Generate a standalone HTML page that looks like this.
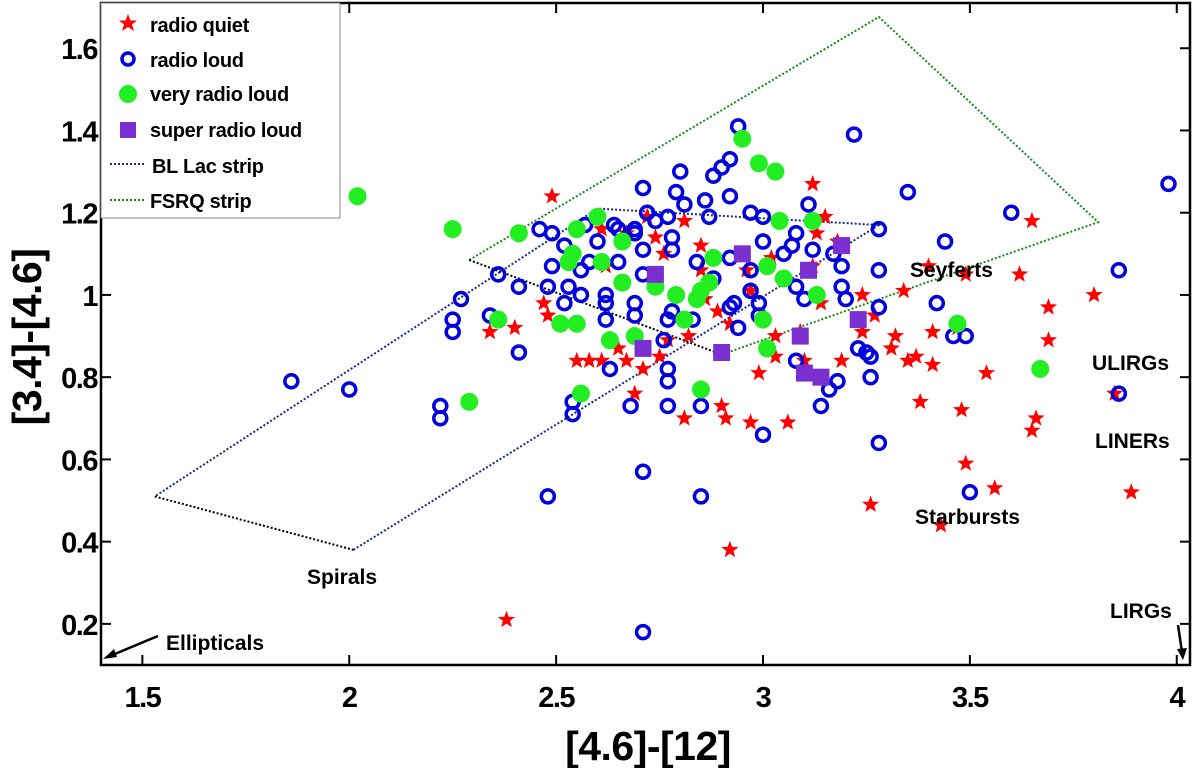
<!DOCTYPE html>
<html><head><meta charset="utf-8"><style>
body{margin:0;background:#fff;}
svg{display:block;font-family:"Liberation Sans",sans-serif;font-weight:bold;}
</style></head><body>
<svg id="chart" width="1200" height="768"></svg>
<script>
const xTicks=[1.5,2,2.5,3,3.5,4];
const yTicks=[0.2,0.4,0.6,0.8,1,1.2,1.4,1.6];
const quietX=[2.49,3.12,2.74,2.81,2.47,2.48,2.34,2.40,2.58,2.55,2.61,2.65,2.67,2.71,2.75,2.69,2.81,2.90,2.91,2.97,3.06,2.99,3.03,3.10,3.19,3.24,3.32,3.37,3.38,3.41,3.35,3.31,3.41,3.34,3.40,3.49,3.62,3.69,3.80,3.69,3.65,3.47,3.54,3.48,3.49,3.56,3.66,3.65,3.89,3.85,3.26,3.43,2.92,2.38,3.13,3.15,2.76,2.85,2.85,2.72,2.67,2.62,2.61,2.86,2.96,2.92,2.97,3.12,3.14,3.27,3.09,3.02,3.18,3.24,2.77,2.82,2.89,3.03];
const quietY=[1.24,1.27,1.14,1.18,0.98,0.95,0.91,0.92,0.84,0.84,0.84,0.87,0.84,0.82,0.85,0.76,0.70,0.73,0.70,0.69,0.69,0.81,0.85,0.84,0.84,0.91,0.90,0.85,0.74,0.83,0.84,0.87,0.91,1.01,1.07,1.05,1.05,0.97,1.00,0.89,1.18,0.92,0.81,0.72,0.59,0.53,0.70,0.67,0.52,0.76,0.49,0.44,0.38,0.21,1.15,1.19,1.10,1.12,1.06,1.19,1.15,1.07,1.16,0.99,1.06,0.93,1.01,1.07,0.98,0.95,0.91,1.09,1.13,1.00,0.89,0.90,0.96,0.90];
const loudX=[2.94,3.22,2.92,2.90,2.88,2.80,2.71,2.79,2.92,2.81,2.86,3.11,2.97,3.00,2.87,2.72,2.77,2.74,2.69,2.69,2.64,2.65,2.60,2.57,2.46,2.49,2.52,3.08,3.07,3.00,3.12,3.05,3.17,2.92,2.84,2.71,2.78,2.78,2.97,3.19,3.19,3.20,3.08,3.10,2.97,2.99,2.93,2.92,2.99,2.94,2.88,2.83,2.78,2.77,2.76,2.69,2.69,2.62,2.62,2.62,2.56,2.53,2.52,2.48,2.49,2.56,2.58,2.65,2.71,2.36,2.41,2.27,2.25,2.25,2.34,2.41,2.63,2.77,2.77,2.68,2.77,2.85,3.08,3.14,3.16,3.18,3.23,2.22,2.22,2.54,2.54,1.86,2.00,2.48,2.71,2.71,2.85,3.00,3.25,3.26,3.28,3.28,3.28,3.35,3.44,3.42,3.46,3.49,3.50,3.60,3.86,3.86,3.98,3.26,3.28];
const loudY=[1.41,1.39,1.33,1.31,1.29,1.30,1.26,1.25,1.24,1.22,1.23,1.22,1.20,1.19,1.19,1.20,1.19,1.18,1.16,1.15,1.17,1.16,1.13,1.17,1.16,1.15,1.12,1.15,1.12,1.13,1.11,1.10,1.10,1.09,1.08,1.11,1.14,1.11,1.06,1.07,1.02,0.99,1.02,0.99,1.01,0.98,0.98,0.97,0.95,0.92,1.04,0.94,0.96,0.94,0.89,0.95,0.98,1.00,0.98,0.94,1.00,1.02,0.98,1.02,1.07,1.06,1.08,1.08,1.05,1.05,1.02,0.99,0.94,0.91,0.95,0.86,0.82,0.82,0.79,0.73,0.73,0.73,0.84,0.73,0.77,0.79,0.87,0.73,0.70,0.74,0.71,0.79,0.77,0.51,0.57,0.18,0.51,0.66,0.86,0.85,0.97,1.06,1.16,1.25,1.13,0.98,0.90,0.90,0.52,1.20,0.76,1.06,1.27,0.80,0.64];
const veryX=[2.25,2.41,2.55,2.60,2.66,2.54,2.53,2.61,2.66,2.74,2.79,2.85,2.87,2.84,2.88,2.95,2.99,3.03,3.04,3.12,3.01,3.05,3.13,3.00,3.01,2.81,2.69,2.63,2.51,2.55,2.36,2.56,2.85,2.29,2.02,3.47,3.67];
const veryY=[1.16,1.15,1.16,1.19,1.13,1.10,1.08,1.08,1.03,1.02,1.00,1.01,1.03,0.99,1.09,1.38,1.32,1.30,1.18,1.18,1.07,1.04,1.00,0.94,0.87,0.94,0.90,0.89,0.93,0.93,0.94,0.76,0.77,0.74,1.24,0.93,0.82];
const superX=[2.74,2.71,2.90,2.95,3.11,3.19,3.09,3.10,3.14,3.23];
const superY=[1.05,0.87,0.86,1.10,1.06,1.12,0.90,0.81,0.80,0.94];
const blLacX=[1.53,2.60,3.28,2.01];
const blLacY=[0.51,1.21,1.17,0.38];
const fsrqX=[2.29,3.28,3.81,2.90];
const fsrqY=[1.085,1.676,1.177,0.855];

const L=101,R=1190,T=3,B=665,X0=1.4,X1=4.032,Y0=0.1,Y1=1.71;
const sx=v=>L+(v-X0)/(X1-X0)*(R-L);
const sy=v=>B-(v-Y0)/(Y1-Y0)*(B-T);
const NS='http://www.w3.org/2000/svg';
const svg=document.getElementById('chart');
function mk(tag,attrs,parent){const e=document.createElementNS(NS,tag);for(const k in attrs)e.setAttribute(k,attrs[k]);(parent||svg).appendChild(e);return e;}
function starPts(cx,cy,r){let p=[];for(let i=0;i<10;i++){const a=-Math.PI/2+i*Math.PI/5;const rr=i%2?r*0.42:r;p.push((cx+rr*Math.cos(a)).toFixed(1)+','+(cy+rr*Math.sin(a)).toFixed(1));}return p.join(' ');}

const bl=blLacX.map((x,i)=>sx(x)+','+sy(blLacY[i]));
const blPoly=mk('polyline',{points:[bl[3],bl[2],bl[1],bl[0]].join(' '),fill:'none',stroke:'#1a2a8a','stroke-width':2,'stroke-dasharray':'2,2'});


const blEdge=mk('line',{x1:sx(blLacX[0]),y1:sy(blLacY[0]),x2:sx(blLacX[3]),y2:sy(blLacY[3]),stroke:'#000','stroke-width':2,'stroke-dasharray':'2,2'});


const fs=fsrqX.map((x,i)=>sx(x)+','+sy(fsrqY[i]));
const fsPoly=mk('polyline',{points:[fs[0],fs[1],fs[2],fs[3]].join(' '),fill:'none',stroke:'#1a8a1a','stroke-width':2,'stroke-dasharray':'2,2'});


const fsEdge=mk('line',{x1:sx(fsrqX[0]),y1:sy(fsrqY[0]),x2:sx(fsrqX[3]),y2:sy(fsrqY[3]),stroke:'#000','stroke-width':2,'stroke-dasharray':'2,2'});



quietX.forEach((x,i)=>{const e=mk('polygon',{points:starPts(sx(x),sy(quietY[i]),9),fill:'#f00'});

});
loudX.forEach((x,i)=>{const e=mk('circle',{cx:sx(x),cy:sy(loudY[i]),r:6.5,fill:'none',stroke:'#0000dd','stroke-width':3.5});

});
veryX.forEach((x,i)=>{const e=mk('circle',{cx:sx(x),cy:sy(veryY[i]),r:9,fill:'#22ee22'});

});
superX.forEach((x,i)=>{const e=mk('rect',{x:sx(x)-8.5,y:sy(superY[i])-8.5,width:17,height:17,fill:'#7a2fd0'});

});

const fr=mk('rect',{x:L,y:T,width:R-L,height:B-T,fill:'none',stroke:'#000','stroke-width':2.5});


xTicks.forEach(v=>{const X=sx(v);mk('line',{x1:X,y1:B,x2:X,y2:B-10,stroke:'#000','stroke-width':2});mk('line',{x1:X,y1:T,x2:X,y2:T+10,stroke:'#000','stroke-width':2});
const t=mk('text',{x:X,y:707,'text-anchor':'middle','font-size':29,'letter-spacing':-1.5});t.textContent=v;

});
yTicks.forEach(v=>{const Y=sy(v);mk('line',{x1:L,y1:Y,x2:L+10,y2:Y,stroke:'#000','stroke-width':2});mk('line',{x1:R,y1:Y,x2:R-10,y2:Y,stroke:'#000','stroke-width':2});
const t=mk('text',{x:L-4,y:Y+11,'text-anchor':'end','font-size':29,'letter-spacing':-1.5});t.textContent=v;

});
</script>
<svg width="1200" height="768" style="position:absolute;left:0;top:0">
<g font-family="Liberation Sans, sans-serif" font-weight="bold" font-size="21">
<text x="648" y="760" text-anchor="middle" font-size="41" letter-spacing="-0.5">[4.6]-[12]</text>
<text transform="translate(41,337) rotate(-90)" text-anchor="middle" font-size="41" letter-spacing="-0.5">[3.4]-[4.6]</text>
<text x="910" y="277">Seyferts</text>
<text x="1092" y="370">ULIRGs</text>
<text x="1095" y="448">LINERs</text>
<text x="915" y="524">Starbursts</text>
<text x="307" y="584">Spirals</text>
<text x="166" y="650">Ellipticals</text>
<text x="1110" y="618">LIRGs</text>
</g>
<line x1="158" y1="636" x2="110" y2="656" stroke="#000" stroke-width="2.5"/>
<polygon points="103,659 114,649 117,657" fill="#000"/>
<line x1="1178" y1="625" x2="1182" y2="652" stroke="#000" stroke-width="2.5"/>
<polygon points="1183,660 1177,649 1187,648" fill="#000"/>
<g>
<rect x="101" y="3" width="239" height="215" fill="#fff" stroke="#888" stroke-width="1"/>
<polygon points="128,14 130.5,20.5 137,20.5 132,24.5 134,31 128,27 122,31 124,24.5 119,20.5 125.5,20.5" fill="#f00"/>
<circle cx="128" cy="59" r="6" fill="none" stroke="#0000dd" stroke-width="3.5"/>
<circle cx="128" cy="94" r="9" fill="#22ee22"/>
<rect x="120" y="122" width="16" height="16" fill="#7a2fd0"/>
<line x1="110" y1="164" x2="146" y2="164" stroke="#1a2a8a" stroke-width="2" stroke-dasharray="2,2"/>
<line x1="110" y1="200" x2="146" y2="200" stroke="#1a8a1a" stroke-width="2" stroke-dasharray="2,2"/>
<g font-family="Liberation Sans, sans-serif" font-weight="bold" font-size="20" letter-spacing="-0.3">
<text x="150" y="32">radio quiet</text>
<text x="150" y="67">radio loud</text>
<text x="150" y="101">very radio loud</text>
<text x="150" y="137">super radio loud</text>
<text x="152" y="173">BL Lac strip</text>
<text x="150" y="208">FSRQ strip</text>
</g></g>
</svg>
</body></html>
